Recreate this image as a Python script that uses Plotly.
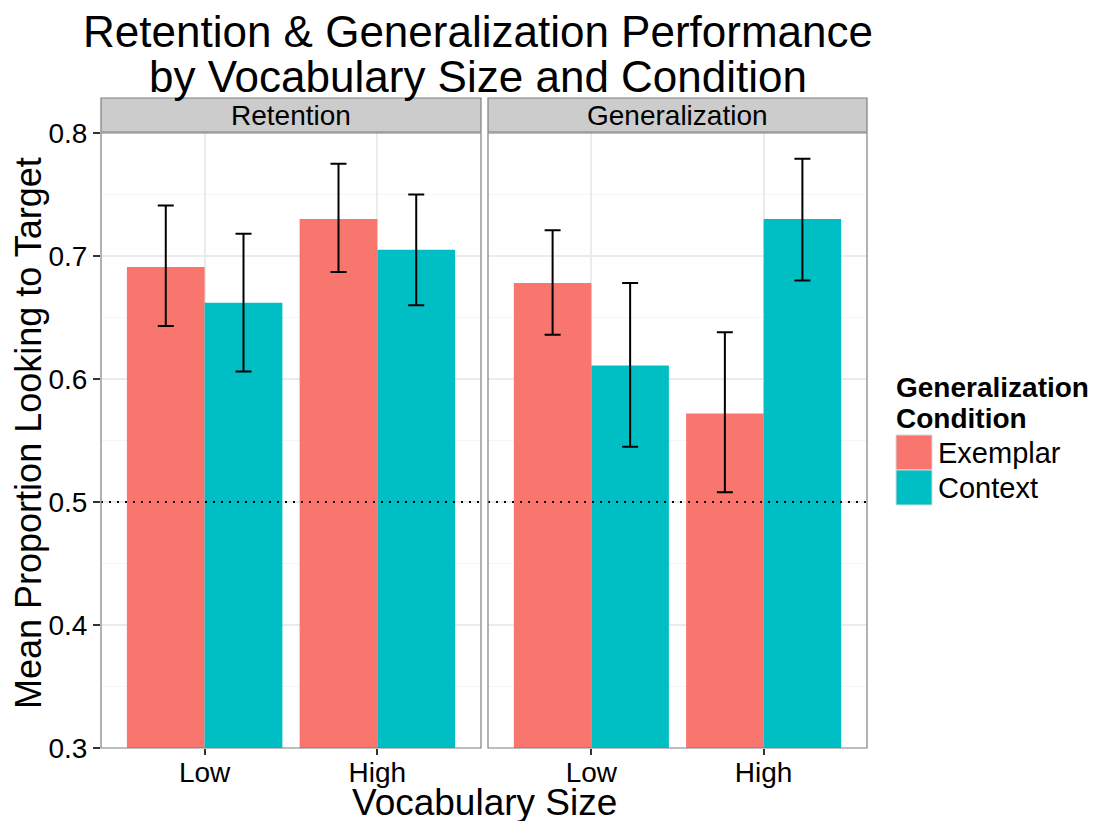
import plotly.graph_objects as go

panels = ["Retention", "Generalization"]
vocab = ["Low", "High"]
conditions = ["Exemplar", "Context"]
colors = {"Exemplar": "#F8766D", "Context": "#00BFC4"}

# means[panel][condition] over vocab (Low, High)
means = {
    "Retention": {"Exemplar": [0.691, 0.730], "Context": [0.662, 0.705]},
    "Generalization": {"Exemplar": [0.678, 0.572], "Context": [0.611, 0.730]},
}
upper = {
    "Retention": {"Exemplar": [0.741, 0.775], "Context": [0.718, 0.750]},
    "Generalization": {"Exemplar": [0.721, 0.638], "Context": [0.678, 0.779]},
}
lower = {
    "Retention": {"Exemplar": [0.643, 0.687], "Context": [0.606, 0.660]},
    "Generalization": {"Exemplar": [0.636, 0.508], "Context": [0.545, 0.680]},
}
y_ticks = [0.3, 0.4, 0.5, 0.6, 0.7, 0.8]
y_minor = [0.35, 0.45, 0.55, 0.65, 0.75]
chance = 0.5

W, H = 1100, 821
OFF = 8  # page body margin offset
font = "Liberation Sans, Arial, Helvetica, sans-serif"


def px(x):
    return (x - OFF) / W


def py(y):
    return 1 - (y - OFF) / H


fig = go.Figure()
xpos = [1, 2]
offsets = {"Exemplar": -0.225, "Context": 0.225}
for pi, p in enumerate(panels):
    xa = "x" if pi == 0 else "x2"
    ya = "y" if pi == 0 else "y2"
    for c in conditions:
        xs = [x + offsets[c] for x in xpos]
        m = means[p][c]
        fig.add_trace(go.Bar(
            x=xs, y=[v - 0.3 for v in m], base=0.3, width=0.45,
            marker=dict(color=colors[c], line=dict(width=0)),
            name=c, showlegend=False, xaxis=xa, yaxis=ya,
        ))
        fig.add_trace(go.Scatter(
            x=xs, y=m, mode="markers", marker=dict(size=0.1, color="rgba(0,0,0,0)"),
            error_y=dict(type="data", symmetric=False,
                         array=[u - v for u, v in zip(upper[p][c], m)],
                         arrayminus=[v - l for v, l in zip(m, lower[p][c])],
                         color="black", thickness=2, width=8),
            showlegend=False, xaxis=xa, yaxis=ya, hoverinfo="skip",
        ))
    fig.add_trace(go.Scatter(
        x=[0.4, 2.6], y=[chance, chance], mode="lines",
        line=dict(color="black", width=2, dash="2px,6px"),
        showlegend=False, xaxis=xa, yaxis=ya, hoverinfo="skip",
    ))

top_px, bot_px = 133, 748
ydom = [py(bot_px), py(top_px)]
x1 = [101, 481]
x2 = [488, 867]
TF = 28

axis_common = dict(
    range=[0.4, 2.6], tickvals=xpos, ticktext=vocab, showgrid=True,
    gridcolor="#EBEBEB", gridwidth=1.5, zeroline=False, ticks="outside",
    ticklen=6, tickcolor="#333333", tickwidth=1.5, ticklabelstandoff=-7,
    tickfont=dict(family=font, size=TF, color="black"),
    showline=False, fixedrange=True, automargin=False,
)
fig.update_layout(
    width=W, height=H,
    margin=dict(l=0, r=0, t=0, b=0, pad=0, autoexpand=False),
    paper_bgcolor="white", plot_bgcolor="white", barmode="overlay",
    showlegend=False,
    xaxis=dict(domain=[px(x1[0]), px(x1[1])], anchor="y", **axis_common),
    xaxis2=dict(domain=[px(x2[0]), px(x2[1])], anchor="y2", **axis_common),
    yaxis=dict(domain=ydom, range=[0.3, 0.8], tickvals=y_ticks,
               ticktext=[f"{t:.1f}" for t in y_ticks],
               showgrid=True, gridcolor="#EBEBEB", gridwidth=1.5,
               minor=dict(tickvals=y_minor, showgrid=True,
                          gridcolor="#F5F5F5", gridwidth=1),
               zeroline=False, ticks="outside", ticklen=7, tickcolor="#333333",
               tickwidth=1.5, tickfont=dict(family=font, size=TF, color="black"),
               anchor="x", fixedrange=True, automargin=False),
    yaxis2=dict(domain=ydom, range=[0.3, 0.8], tickvals=y_ticks, showticklabels=False,
                showgrid=True, gridcolor="#EBEBEB", gridwidth=1.5,
                minor=dict(tickvals=y_minor, showgrid=True,
                           gridcolor="#F5F5F5", gridwidth=1),
                zeroline=False, ticks="", anchor="x2", fixedrange=True, automargin=False),
)

shapes = []
annotations = []
for pi, (xr, label) in enumerate(zip([x1, x2], panels)):
    shapes.append(dict(type="rect", xref="paper", yref="paper",
                       x0=px(xr[0]), x1=px(xr[1]), y0=ydom[0], y1=ydom[1],
                       line=dict(color="#7F7F7F", width=1.2), fillcolor="rgba(0,0,0,0)",
                       layer="above"))
    shapes.append(dict(type="rect", xref="paper", yref="paper",
                       x0=px(xr[0]), x1=px(xr[1]), y0=py(132), y1=py(98),
                       line=dict(color="#7F7F7F", width=1.2), fillcolor="#CCCCCC"))
    annotations.append(dict(text=label, xref="paper", yref="paper",
                            x=px((xr[0] + xr[1]) / 2), y=py(116),
                            xanchor="center", yanchor="middle", showarrow=False,
                            font=dict(family=font, size=TF, color="black")))

# title (two lines, tight spacing)
for txt, yc in [("Retention & Generalization Performance", 32),
                ("by Vocabulary Size and Condition", 76)]:
    annotations.append(dict(text=txt, xref="paper", yref="paper", x=px(478), y=py(yc),
                            xanchor="center", yanchor="middle", showarrow=False,
                            font=dict(family=font, size=44, color="black")))
# axis titles
annotations.append(dict(text="Vocabulary Size", xref="paper", yref="paper",
                        x=px(484), y=py(802), xanchor="center", yanchor="middle",
                        showarrow=False, font=dict(family=font, size=37, color="black")))
annotations.append(dict(text="Mean Proportion Looking to Target", xref="paper", yref="paper",
                        x=px(28), y=py(433), xanchor="center", yanchor="middle",
                        textangle=-90, showarrow=False,
                        font=dict(family=font, size=36, color="black")))
# legend
for txt, yc in [("<b>Generalization</b>", 388), ("<b>Condition</b>", 418)]:
    annotations.append(dict(text=txt, xref="paper", yref="paper",
                            x=px(894), y=py(yc), xanchor="left", yanchor="middle",
                            align="left", showarrow=False,
                            font=dict(family=font, size=28, color="black")))
for i, c in enumerate(conditions):
    y0 = 435 + i * 35
    shapes.append(dict(type="rect", xref="paper", yref="paper",
                       x0=px(896), x1=px(932), y0=py(y0 + 35), y1=py(y0),
                       line=dict(color="#D9D9D9", width=1), fillcolor=colors[c]))
    annotations.append(dict(text=c, xref="paper", yref="paper",
                            x=px(936), y=py(y0 + 18), xanchor="left", yanchor="middle",
                            showarrow=False, font=dict(family=font, size=29, color="black")))

fig.update_layout(shapes=shapes, annotations=annotations)
fig.write_html("out.html")
